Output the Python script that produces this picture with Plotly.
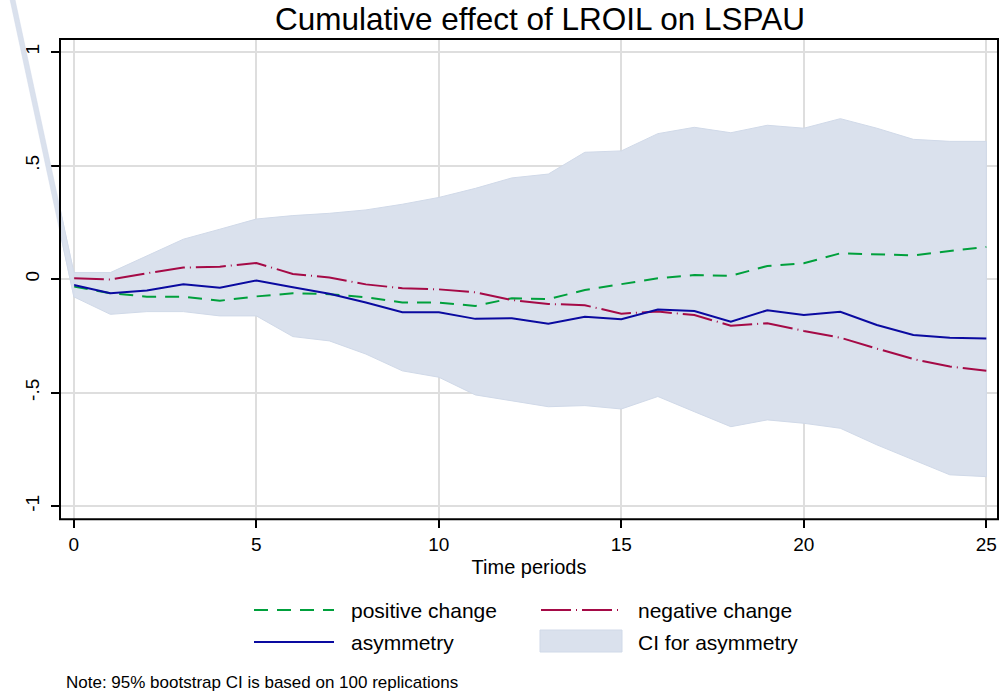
import plotly.graph_objects as go

# ---------------- data ----------------
periods = list(range(0, 26))
positive_change = [-0.033, -0.062, -0.077, -0.077, -0.095, -0.076, -0.062, -0.066, -0.080, -0.103,
                   -0.103, -0.118, -0.084, -0.088, -0.048, -0.023, 0.004, 0.018, 0.015, 0.058,
                   0.070, 0.114, 0.108, 0.105, 0.124, 0.142]
negative_change = [0.004, -0.002, 0.026, 0.051, 0.055, 0.071, 0.023, 0.007, -0.023, -0.040,
                   -0.045, -0.058, -0.092, -0.109, -0.115, -0.152, -0.143, -0.158, -0.205, -0.194,
                   -0.228, -0.258, -0.306, -0.352, -0.385, -0.404]
asymmetry = [-0.026, -0.062, -0.050, -0.023, -0.038, -0.006, -0.036, -0.064, -0.103, -0.146,
             -0.146, -0.175, -0.172, -0.196, -0.166, -0.177, -0.134, -0.140, -0.187, -0.137,
             -0.158, -0.144, -0.202, -0.246, -0.258, -0.262]
# CI band (includes a stray leading observation that Stata drew outside the plot region)
ci_periods = [-2] + list(range(0, 26))
ci_upper = [1.52, 0.029, 0.029, 0.102, 0.176, 0.220, 0.265, 0.280, 0.290, 0.305, 0.330,
            0.360, 0.400, 0.446, 0.463, 0.559, 0.565, 0.641, 0.669, 0.645, 0.678,
            0.665, 0.707, 0.665, 0.616, 0.607, 0.607]
ci_lower = [1.42, -0.078, -0.155, -0.143, -0.143, -0.162, -0.162, -0.253, -0.272, -0.330, -0.404,
            -0.432, -0.510, -0.537, -0.562, -0.557, -0.572, -0.517, -0.584, -0.650, -0.620,
            -0.635, -0.657, -0.730, -0.796, -0.862, -0.870]

x_tickvals = [0, 5, 10, 15, 20, 25]
y_tickvals = [-1, -0.5, 0, 0.5, 1]
y_ticktext = ["-1", "-.5", "0", ".5", "1"]

title_text = "Cumulative effect of LROIL on LSPAU"
x_title = "Time periods"
note_text = "Note: 95% bootstrap CI is based on 100 replications"
legend_labels = ["positive change", "negative change", "asymmetry", "CI for asymmetry"]

# ---------------- styling / layout ----------------
W, H = 1002, 692
FONT = "Liberation Sans, Arial, sans-serif"
C_GREEN = "rgb(0,160,60)"
C_RED = "rgb(165,10,70)"
C_BLUE = "rgb(10,10,160)"
C_BAND = "rgb(218,225,237)"
C_BAND_EDGE = "rgb(208,217,232)"
C_GRID = "rgb(222,222,222)"
RED_DASH = "30px,5px,1px,5px"
GREEN_DASH = "14px,9px"

# plot region in pixels
PL, PR, PT, PB = 60, 998, 39, 519.3
XR = [-0.38, 25.32]
YR = [-1.058, 1.058]

xdom = [PL / W, PR / W]
ydom = [1 - PB / H, 1 - PT / H]

# full-figure overlay axes aligned with the main axes (for the unclipped stray segment)
xs = (PR - PL) / (XR[1] - XR[0])
ys = (PB - PT) / (YR[1] - YR[0])
X2R = [XR[0] - PL / xs, XR[1] + (W - PR) / xs]
Y2R = [YR[0] - (H - PB) / ys, YR[1] + PT / ys]

def px(x):
    return x / W

def py(y):
    return 1 - y / H

fig = go.Figure()

band_x = ci_periods + ci_periods[::-1]
band_y = ci_upper + ci_lower[::-1]
fig.add_trace(go.Scatter(x=band_x, y=band_y, fill="toself", fillcolor=C_BAND,
                         line=dict(color=C_BAND_EDGE, width=1), mode="lines",
                         hoverinfo="skip", showlegend=False, name=legend_labels[3]))
fig.add_trace(go.Scatter(x=periods, y=positive_change, mode="lines", name=legend_labels[0],
                         line=dict(color=C_GREEN, width=2, dash=GREEN_DASH), showlegend=False))
fig.add_trace(go.Scatter(x=periods, y=negative_change, mode="lines", name=legend_labels[1],
                         line=dict(color=C_RED, width=2, dash=RED_DASH), showlegend=False))
fig.add_trace(go.Scatter(x=periods, y=asymmetry, mode="lines", name=legend_labels[2],
                         line=dict(color=C_BLUE, width=2), showlegend=False))

# stray leading segment of the CI band, drawn on full-figure axes so it is not clipped
seg_x = [ci_periods[0], ci_periods[1], ci_periods[1], ci_periods[0]]
seg_y = [ci_upper[0], ci_upper[1], ci_lower[1], ci_lower[0]]
fig.add_trace(go.Scatter(x=seg_x, y=seg_y, xaxis="x2", yaxis="y2", fill="toself",
                         fillcolor=C_BAND, line=dict(color=C_BAND_EDGE, width=0.5),
                         mode="lines", hoverinfo="skip", showlegend=False))

fig.update_layout(
    width=W, height=H,
    margin=dict(l=0, r=0, t=0, b=0),
    paper_bgcolor="white", plot_bgcolor="rgba(0,0,0,0)",
    font=dict(family=FONT, color="black"),
    showlegend=False,
    title=dict(text=title_text, x=540 / W, xanchor="center", xref="paper",
               y=py(19), yanchor="middle", yref="paper",
               font=dict(size=31.5, family=FONT, color="black")),
    xaxis=dict(domain=xdom, range=XR, tickvals=x_tickvals, showgrid=True, gridcolor=C_GRID,
               gridwidth=1.6, zeroline=False, showline=False, ticks="outside", ticklen=8,
               tickwidth=1.5, tickcolor="black", tickfont=dict(size=19, family=FONT),
               title=dict(text=x_title, font=dict(size=20, family=FONT), standoff=5),
               anchor="y"),
    yaxis=dict(domain=ydom, range=YR, tickvals=y_tickvals, ticktext=y_ticktext, showgrid=True,
               gridcolor=C_GRID, gridwidth=1.6, zeroline=False, showline=False, ticks="outside",
               ticklen=8, tickwidth=1.5, tickcolor="black", tickangle=-90, ticklabelstandoff=4,
               tickfont=dict(size=19, family=FONT), anchor="x"),
    xaxis2=dict(domain=[0, 1], range=X2R, visible=False, anchor="y2", fixedrange=True,
                showgrid=False, zeroline=False),
    yaxis2=dict(domain=[0, 1], range=Y2R, visible=False, anchor="x2", fixedrange=True,
                showgrid=False, zeroline=False),
)

shapes = []
# plot region outline
shapes.append(dict(type="rect", xref="paper", yref="paper", x0=px(PL), x1=px(PR),
                   y0=py(PB), y1=py(PT), line=dict(color="black", width=2), layer="above"))
# manual legend (Stata-style long keys)
row1, row2 = 610, 642
shapes.append(dict(type="line", xref="paper", yref="paper", x0=px(254), x1=px(334), y0=py(row1), y1=py(row1),
                   line=dict(color=C_GREEN, width=2, dash=GREEN_DASH)))
shapes.append(dict(type="line", xref="paper", yref="paper", x0=px(541), x1=px(621), y0=py(row1), y1=py(row1),
                   line=dict(color=C_RED, width=2, dash=RED_DASH)))
shapes.append(dict(type="line", xref="paper", yref="paper", x0=px(254), x1=px(334), y0=py(row2), y1=py(row2),
                   line=dict(color=C_BLUE, width=2)))
shapes.append(dict(type="rect", xref="paper", yref="paper", x0=px(540), x1=px(622), y0=py(652), y1=py(630),
                   fillcolor=C_BAND, line=dict(color=C_BAND_EDGE, width=1)))
fig.update_layout(shapes=shapes)

ann = []
for txt, x, y in [(legend_labels[0], 349, row1), (legend_labels[1], 636, row1),
                  (legend_labels[2], 349, row2), (legend_labels[3], 636, row2)]:
    ann.append(dict(text=txt, x=px(x), y=py(y), xref="paper", yref="paper", xanchor="left",
                    yanchor="middle", showarrow=False, font=dict(size=21, family=FONT, color="black")))
ann.append(dict(text=note_text, x=px(64), y=py(682), xref="paper", yref="paper", xanchor="left",
                yanchor="middle", showarrow=False, font=dict(size=17, family=FONT, color="black")))
fig.update_layout(annotations=ann)

fig.write_html("out.html", config={"displayModeBar": False},
               post_script="document.body.style.margin='0px';")
